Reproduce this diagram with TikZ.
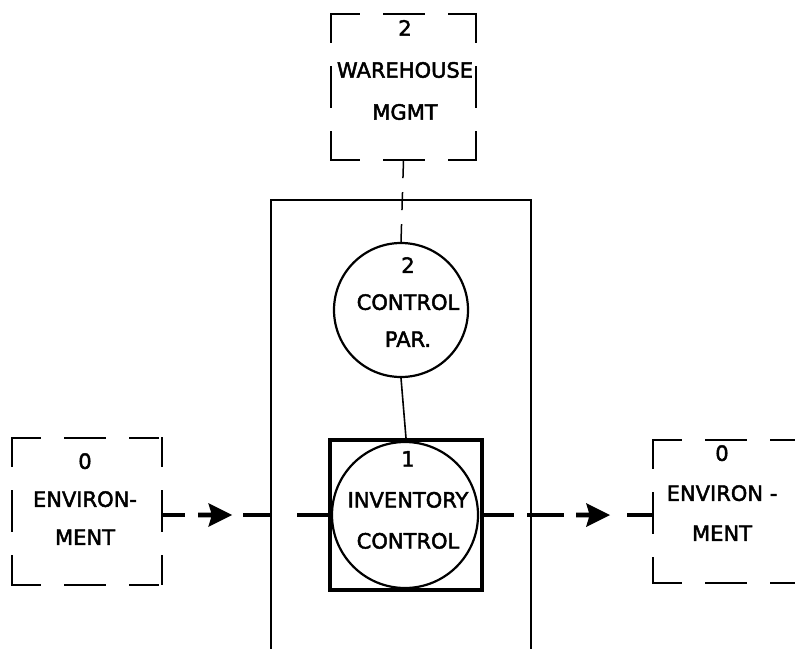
\documentclass[tikz,border=0pt]{standalone}
\usepackage{fontspec}
\setmainfont{DejaVu Sans}[FakeBold=2.2]
\usetikzlibrary{decorations.markings,calc}
\begin{document}
\begin{tikzpicture}[x=1pt,y=-1pt,
  hand/.style={font=\fontsize{21}{#1}\selectfont, align=center, inner sep=0pt},
  hand/.default=40,
  dside/.style={line width=1.6pt, line cap=rect, dash pattern=on 28pt off 25pt on 40pt off 25pt},
  ebox/.style={rectangle, inner sep=0pt},
  frameline/.style={line width=1.5pt},
  bubble/.style={circle, draw, line width=2.2pt, inner sep=0pt},
  flow/.style={line width=4.5pt},
  tipshape/.style={fill=black},
]
\useasboundingbox (0,0) rectangle (795,648);

% boundary frame
\coordinate (fbl) at (271,652);
\coordinate (ftl) at (271,200);
\coordinate (ftr) at (531,200);
\coordinate (fbr) at (531,652);
\draw[frameline] (fbl) -- (ftl) -- (ftr) -- (fbr);

% dashed terminator boxes
\node[ebox, minimum width=145pt, minimum height=146pt] (wh) at (403.5,87) {};
\node[ebox, minimum width=150pt, minimum height=147pt] (envL) at (87,511.5) {};
\node[ebox, minimum width=150pt, minimum height=143pt] (envR) at (728,511.5) {};
\foreach \b in {wh,envL,envR}{
  \draw[dside] (\b.north west) -- (\b.north east);
  \draw[dside] (\b.north east) -- (\b.south east);
  \draw[dside] (\b.south west) -- (\b.south east);
  \draw[dside] (\b.north west) -- (\b.south west);
}
\node[hand=42] (whT) at (405,70) {2\\WAREHOUSE\\MGMT};
\node[hand=38] (envLT) at (85,499) {0\\ENVIRON-\\MENT};
\node[hand=40] (envRT) at (722,493) {0\\ENVIRON -\\MENT};

% processes
\node[bubble, minimum size=134pt] (ctrl) at (401,310) {};
\node[hand=37] (ctrlT) at (408,302) {2\\CONTROL\\PAR.};
\node[draw, line width=4pt, minimum width=152pt, minimum height=150pt, inner sep=0pt] (inv) at (406,515) {};
\node[bubble, minimum size=146pt] (invc) at (405,515) {};
\node[hand=41] (invT) at (408,500) {1\\INVENTORY\\CONTROL};

% connectors
\draw[line width=1.5pt, dash pattern=on 18pt off 14pt] (wh.south) -- (ctrl.north);
\draw[line width=1.6pt] (ctrl.south) -- (inv.north);

\draw[flow, dash pattern=on 23pt off 58pt on 29pt off 25pt on 40pt,
  postaction={decorate},
  decoration={markings, mark=at position 70pt with {
    \fill[tipshape] (0pt,0pt) -- (-24pt,-12pt) -- (-21pt,-2.3pt) -- (-34pt,-2.3pt)
      -- (-34pt,2.3pt) -- (-21pt,2.3pt) -- (-24pt,12pt) -- cycle;}}]
  (inv.west -| envL.east) -- (inv.west);

\draw[flow, dash pattern=on 30pt off 13pt on 37pt off 63pt on 40pt,
  postaction={decorate},
  decoration={markings, mark=at position 126pt with {
    \fill[tipshape] (0pt,0pt) -- (-24pt,-12pt) -- (-21pt,-2.3pt) -- (-34pt,-2.3pt)
      -- (-34pt,2.3pt) -- (-21pt,2.3pt) -- (-24pt,12pt) -- cycle;}}]
  (inv.east) -- (inv.east -| envR.west);
\end{tikzpicture}
\end{document}
